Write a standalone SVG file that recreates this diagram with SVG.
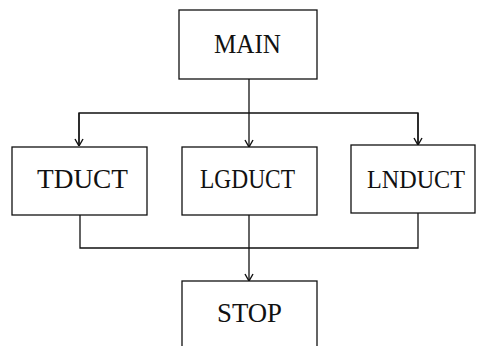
<svg xmlns="http://www.w3.org/2000/svg" width="477" height="346" viewBox="0 0 477 346">
<style>
.box{fill:#fff;stroke:#111;stroke-width:1.3}
.lbl{font-family:"Liberation Serif","Times New Roman",serif;font-size:28px;fill:#111;text-anchor:middle}
.con{fill:none;stroke:#111;stroke-width:1.3}
</style>
<defs>
<marker id="arr" viewBox="0 0 10 10" refX="10" refY="5" markerWidth="10" markerHeight="10" markerUnits="userSpaceOnUse" orient="auto">
<path d="M3,1 L10,5 L3,9" fill="none" stroke="#111" stroke-width="1.4"/>
</marker>
</defs>
<rect width="477" height="346" fill="#fff"/>
<g id="connectors">
<line class="con" x1="249" y1="79" x2="249" y2="113"/>
<path class="con" d="M79,146 V113 H418 V145"/>
<line class="con" x1="79" y1="113" x2="79" y2="146" marker-end="url(#arr)"/>
<line class="con" x1="249" y1="113" x2="249" y2="147" marker-end="url(#arr)"/>
<line class="con" x1="418" y1="113" x2="418" y2="145" marker-end="url(#arr)"/>
<path class="con" d="M80,214 V248 H418 V213"/>
<line class="con" x1="249" y1="215" x2="249" y2="281" marker-end="url(#arr)"/>
</g>
<g id="main"><rect class="box" x="179" y="10" width="138" height="69"/><text class="lbl" x="247.5" y="53" textLength="67" lengthAdjust="spacingAndGlyphs">MAIN</text></g>
<g id="tduct"><rect class="box" x="12" y="147" width="135" height="68"/><text class="lbl" x="82.5" y="188" textLength="91" lengthAdjust="spacingAndGlyphs">TDUCT</text></g>
<g id="lgduct"><rect class="box" x="182" y="147" width="135" height="68"/><text class="lbl" x="247.5" y="188" textLength="95" lengthAdjust="spacingAndGlyphs">LGDUCT</text></g>
<g id="lnduct"><rect class="box" x="351" y="145" width="124" height="68"/><text class="lbl" x="416" y="188" style="font-size:26px" textLength="98" lengthAdjust="spacingAndGlyphs">LNDUCT</text></g>
<g id="stop"><rect class="box" x="182" y="281" width="135" height="80"/><text class="lbl" x="249.5" y="322" textLength="65" lengthAdjust="spacingAndGlyphs">STOP</text></g>
</svg>
